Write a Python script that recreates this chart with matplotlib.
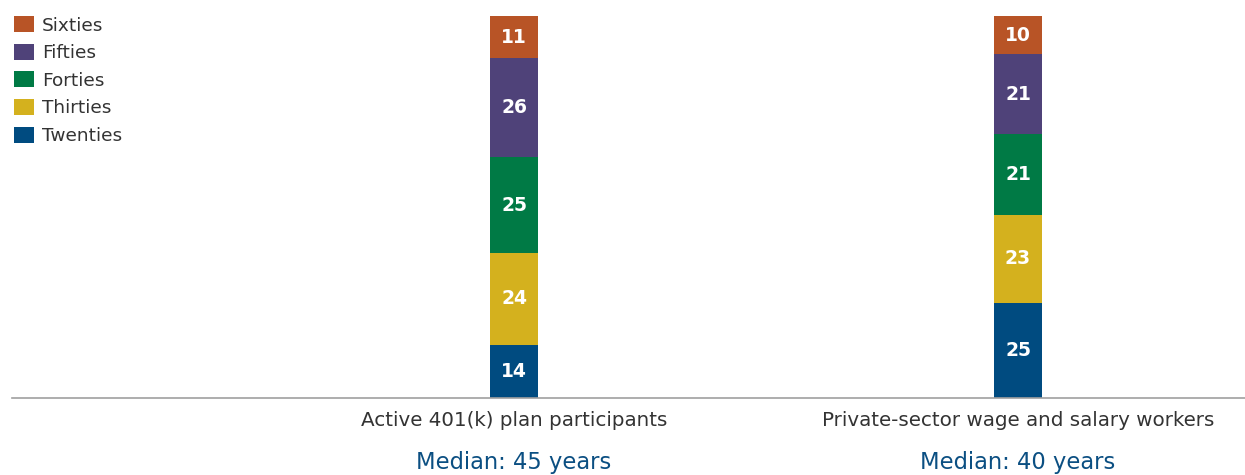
import matplotlib.pyplot as plt

plt.rcParams['font.family'] = ['DejaVu Sans']

groups = ["Active 401(k) plan participants", "Private-sector wage and salary workers"]
medians = ["Median: 45 years", "Median: 40 years"]
decades = ["Twenties", "Thirties", "Forties", "Fifties", "Sixties"]
colors = ["#004b80", "#d4b11e", "#007a45", "#4f4279", "#b85426"]
twenties = [14, 25]
thirties = [24, 23]
forties = [25, 21]
fifties = [26, 21]
sixties = [11, 10]
shares = [twenties, thirties, forties, fifties, sixties]

fig = plt.figure(figsize=(12.45, 4.75), dpi=100)
ax = fig.add_axes([12 / 1245, 77 / 475, 1 - 12 / 1245, 382 / 475])

x = [0, 1]
width = 48 / 504
bottom = [0, 0]
handles = []
for name, vals, c in zip(decades, shares, colors):
    bars = ax.bar(x, vals, width, bottom=bottom, color=c, label=name)
    handles.append(bars)
    for xi, b, v in zip(x, bottom, vals):
        ax.text(xi, b + v / 2, str(v), ha='center', va='center', color='white',
                fontsize=13.5, fontweight='bold')
    bottom = [b + v for b, v in zip(bottom, vals)]

ax.set_xlim(-502 / 504, 1 + 227 / 504)
ax.set_ylim(0, 100)
for s in ['top', 'right', 'left']:
    ax.spines[s].set_visible(False)
ax.spines['bottom'].set_color('#a0a0a0')
ax.spines['bottom'].set_linewidth(1.2)
ax.set_yticks([])
ax.set_xticks([])

# group names and medians under the baseline
trans = ax.get_xaxis_transform()
for xi, g, m in zip(x, groups, medians):
    ax.text(xi, -22 / 382, g, ha='center', va='center', fontsize=14.3,
            color='#333333', transform=trans, clip_on=False)
    ax.text(xi, -64 / 382, m, ha='center', va='center', fontsize=16.3,
            color='#0b4f82', transform=trans, clip_on=False)

leg = fig.legend(handles[::-1], decades[::-1], loc='upper left',
                 bbox_to_anchor=(7 / 1245, 1 - 9 / 475), frameon=False,
                 fontsize=13.3, handlelength=1.05, handleheight=0.95,
                 handletextpad=0.45, labelspacing=0.5, borderaxespad=0)
for txt in leg.get_texts():
    txt.set_color('#333333')

fig.savefig('out.png', dpi=100)
